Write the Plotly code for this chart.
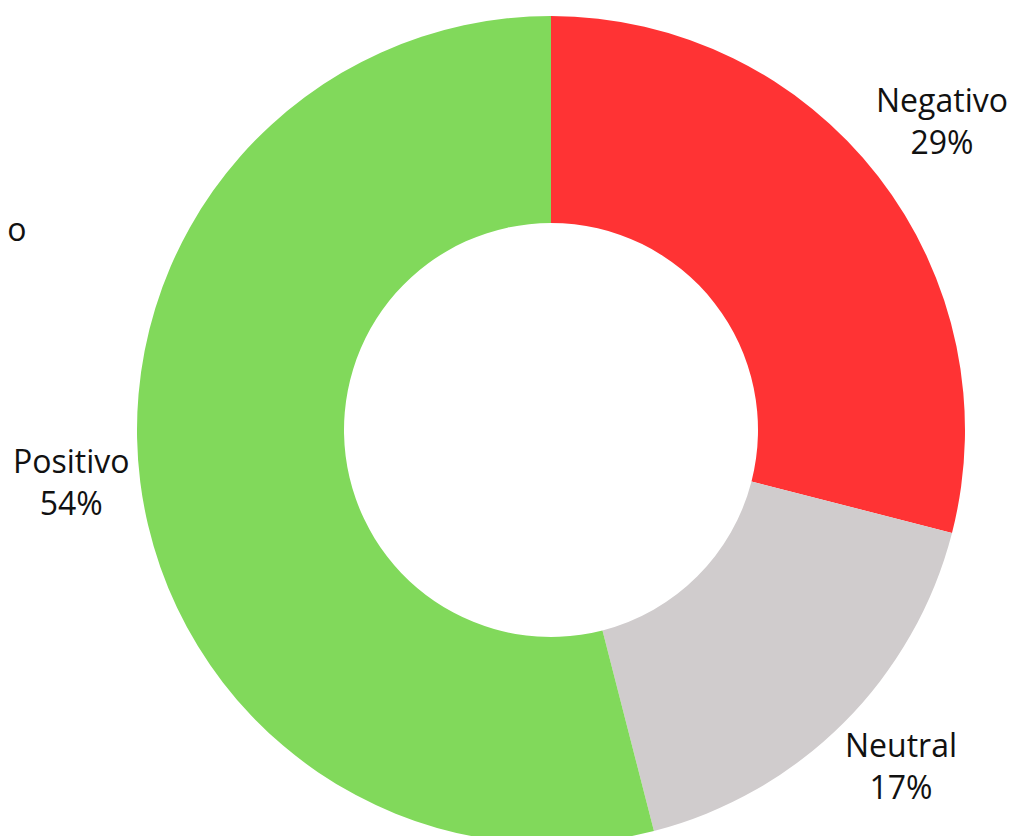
import math
import plotly.graph_objects as go

labels = ["Negativo", "Neutral", "Positivo"]
values = [29, 17, 54]
colors = ["#FF3334", "#D0CCCD", "#81D95B"]

W, H = 1016, 836
TOP = 8                      # top margin (px)
CX, CY = 543, 420            # pie centre in figure pixels
R = (H - TOP) / 2            # pie radius in pixels
LABEL_DIST = 1.18            # label distance as a fraction of radius
FONT = dict(family="Open Sans", size=32, color="#111111")

fig = go.Figure(go.Pie(
    labels=labels,
    values=values,
    hole=0.5,
    sort=False,
    direction="clockwise",
    rotation=0,
    marker=dict(colors=colors, line=dict(width=0)),
    textinfo="none",
    hoverinfo="label+percent",
    domain=dict(x=[(CX - R) / W, (CX + R) / W], y=[0, 1]),
    showlegend=False,
))

total = sum(values)
cum = 0
for lab, v in zip(labels, values):
    mid = (cum + v / 2) / total * 2 * math.pi
    cum += v
    X = CX + LABEL_DIST * R * math.sin(mid)
    Y = CY - LABEL_DIST * R * math.cos(mid)
    fig.add_annotation(
        text=f"{lab}<br>{round(100 * v / total)}%",
        xref="paper", yref="paper",
        x=X / W, y=1 - (Y - TOP) / (H - TOP),
        xanchor="center", yanchor="middle", xshift=5, yshift=8,
        showarrow=False, font=FONT, align="center",
    )

fig.add_annotation(
    text="Subjetivo", xref="paper", yref="paper",
    x=21 / W, y=1 - (220 - TOP) / (H - TOP), xanchor="right", yanchor="middle",
    showarrow=False, font=FONT,
)

fig.update_layout(
    width=W, height=H,
    margin=dict(l=0, r=0, t=TOP, b=0),
    paper_bgcolor="white", plot_bgcolor="white",
)
fig.write_html("out.html")
